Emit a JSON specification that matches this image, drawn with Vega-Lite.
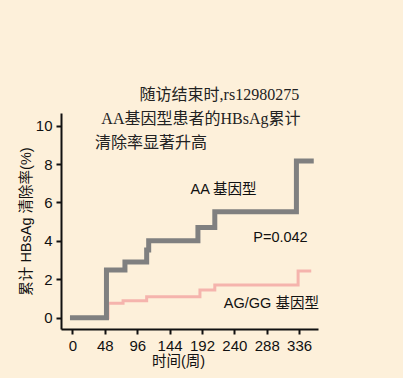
{
  "$schema": "https://vega.github.io/schema/vega-lite/v6.json",
  "width": 257,
  "height": 216,
  "autosize": {"type": "none"},
  "padding": {"left": 61, "top": 113, "right": 85, "bottom": 49},
  "background": "#fdf0da",
  "view": {"stroke": null},
  "config": {
    "font": "Liberation Sans, Noto Sans CJK SC",
    "axis": {
      "domainColor": "#111111",
      "domainWidth": 2,
      "tickColor": "#111111",
      "tickWidth": 2,
      "tickSize": 5,
      "labelFontSize": 15,
      "labelColor": "#111111",
      "labelFont": "Liberation Sans",
      "titleFont": "Liberation Sans, Noto Sans CJK SC",
      "titleFontSize": 14.5,
      "titleFontWeight": "normal",
      "titleColor": "#111111",
      "grid": false
    }
  },
  "datasets": {
    "aa": [
      {"week": 0, "value": 0},
      {"week": 50.4, "value": 2.48},
      {"week": 77.8, "value": 2.9},
      {"week": 110, "value": 3.53},
      {"week": 113, "value": 4.0},
      {"week": 186, "value": 4.7},
      {"week": 211, "value": 5.52},
      {"week": 332, "value": 8.16},
      {"week": 354, "value": 8.16}
    ],
    "ag": [
      {"week": 0, "value": 0},
      {"week": 52.6, "value": 0.75},
      {"week": 75, "value": 0.88},
      {"week": 110, "value": 1.09},
      {"week": 189, "value": 1.44},
      {"week": 211, "value": 1.7},
      {"week": 334.5, "value": 2.43},
      {"week": 354, "value": 2.43}
    ],
    "heading": [
      {"text": "随访结束时,rs12980275", "week": 217.8, "value": 11.6},
      {"text": "AA基因型患者的HBsAg累计", "week": 190.4, "value": 10.35},
      {"text": "清除率显著升高", "week": 116.3, "value": 9.1}
    ],
    "notes": [
      {"text": "AA 基因型", "week": 175, "value": 6.65},
      {"text": "P=0.042", "week": 268, "value": 4.17},
      {"text": "AG/GG 基因型", "week": 224.4, "value": 0.71}
    ]
  },
  "encoding": {
    "x": {
      "field": "week",
      "type": "quantitative",
      "scale": {"domain": [-17, 364], "nice": false, "zero": false},
      "axis": {
        "values": [0, 48, 96, 144, 192, 240, 288, 336],
        "title": "时间(周)",
        "labelPadding": 4,
        "titlePadding": 1,
        "titleX": 117,
        "titleAnchor": "middle"
      }
    },
    "y": {
      "field": "value",
      "type": "quantitative",
      "scale": {"domain": [-0.59, 10.66], "nice": false, "zero": false},
      "axis": {
        "values": [0, 2, 4, 6, 8, 10],
        "title": "累计 HBsAg 清除率(%)",
        "labelPadding": 4,
        "titlePadding": 2
      }
    }
  },
  "layer": [
    {
      "data": {"name": "ag"},
      "mark": {"type": "line", "interpolate": "step-after", "strokeWidth": 3, "color": "#f5b4ad", "clip": false}
    },
    {
      "data": {"name": "aa"},
      "mark": {"type": "line", "interpolate": "step-after", "strokeWidth": 5, "color": "#808080", "strokeCap": "square", "clip": false}
    },
    {
      "data": {"name": "heading"},
      "mark": {"type": "text", "align": "center", "baseline": "middle", "fontSize": 16, "font": "Liberation Serif, Noto Sans CJK SC", "color": "#222222", "clip": false},
      "encoding": {"text": {"field": "text"}}
    },
    {
      "data": {"name": "notes"},
      "mark": {"type": "text", "align": "left", "baseline": "middle", "fontSize": 14.5, "font": "Liberation Sans, Noto Sans CJK SC", "color": "#111111", "clip": false},
      "encoding": {"text": {"field": "text"}}
    }
  ]
}
